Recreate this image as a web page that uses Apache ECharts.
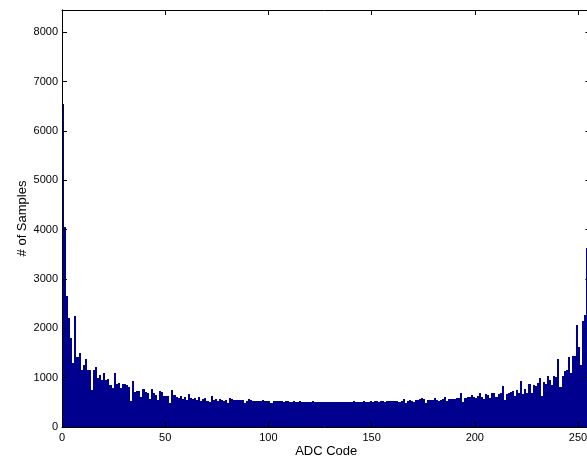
<!DOCTYPE html>
<html><head><meta charset="utf-8">
<script src="https://cdn.jsdelivr.net/npm/echarts@6/dist/echarts.min.js"></script>
<style>html,body{margin:0;padding:0;background:#fff}#c{width:587px;height:462px}</style>
</head><body><div id="c"></div>
<script>
// ADC code histogram: counts for codes 0..255 (bin i spans [i, i+1])
const counts0to33 = [6550,4050,2650,2200,1800,1290,2250,1420,1500,1150,1250,1380,1150,1150,750,1150,1220,1000,1050,950,1100,950,980,850,800,1100,880,900,800,880,870,850,820,520];
const counts34to61 = [930,700,720,720,610,780,700,680,570,760,680,650,550,720,700,630,630,630,490,750,640,610,590,630,570,600,550,675];
const counts62to83 = [595,570,580,550,615,530,575,580,530,510,635,550,560,530,570,550,530,540,480,595,560,550];
const counts84to160 = [545,540,540,555,490,535,560,540,535,530,535,525,530,540,525,520,535,485,530,525,520,530,525,515,520,525,515,510,520,515,510,520,515,505,510,515,510,520,505,510,515,505,510,515,510,505,515,510,505,510,515,505,510,515,510,505,515,520,510,515,505,515,520,510,515,520,515,520,525,515,520,525,515,530,520,525,530];
const counts161to222 = [520,520,505,535,560,495,535,540,535,505,540,540,560,595,565,480,545,545,545,590,545,535,555,565,600,520,565,565,565,575,595,595,680,505,595,615,615,655,615,590,630,680,615,565,660,650,580,680,695,600,660,680,830,545,675,680,715,735,630,750,690,940];
const counts223to255 = [670,780,695,870,695,850,835,900,990,630,920,870,1030,950,845,1040,1020,1380,815,1040,1140,1150,1420,1100,1445,1445,2065,1625,1260,2150,2270,3620,4000];
const counts = [].concat(counts0to33, counts34to61, counts62to83, counts84to160, counts161to222, counts223to255);
const xTickValues = [0,50,100,150,200,250];
const yTickValues = [0,1000,2000,3000,4000,5000,6000,7000,8000];
const xTitle = 'ADC Code';
const yTitle = '# of Samples';

const data = counts.map((v, i) => [i, v]);
const font = 'Liberation Sans, Arial, Helvetica, sans-serif';
const chart = echarts.init(document.getElementById('c'), null, {renderer: 'canvas'});

const axisCommon = {
  axisLine: {show: true, onZero: false, lineStyle: {color: '#000', width: 1}},
  axisTick: {show: true, inside: true, length: 5, lineStyle: {color: '#000', width: 1}},
  splitLine: {show: false},
  nameMoveOverlap: false,
  z: 5
};
const X_MAX = 256, Y_MAX = 8450;
chart.setOption({
  animation: false,
  backgroundColor: '#fff',
  grid: {left: 62, top: 10, width: 528.4, height: 417, containLabel: false, outerBoundsMode: 'none'},
  xAxis: [
    Object.assign({}, axisCommon, {
      type: 'value', min: 0, max: X_MAX, interval: 50, position: 'bottom',
      axisLabel: {show: true, color: '#000', fontSize: 11, fontFamily: font, margin: 5, showMaxLabel: false,
        formatter: v => xTickValues.includes(v) ? String(v) : ''},
      name: xTitle, nameLocation: 'middle', nameGap: 18,
      nameTextStyle: {color: '#000', fontSize: 13, fontFamily: font}
    }),
    Object.assign({}, axisCommon, {
      type: 'value', min: 0, max: X_MAX, interval: 50, position: 'top',
      axisLabel: {show: false}
    })
  ],
  yAxis: [
    Object.assign({}, axisCommon, {
      type: 'value', min: 0, max: Y_MAX, interval: 1000, position: 'left',
      axisLabel: {show: true, color: '#000', fontSize: 11, fontFamily: font, margin: 4, showMaxLabel: false,
        formatter: v => yTickValues.includes(v) ? String(v) : ''},
      name: yTitle, nameLocation: 'middle', nameGap: 33,
      nameTextStyle: {color: '#000', fontSize: 13, fontFamily: font}
    }),
    Object.assign({}, axisCommon, {
      type: 'value', min: 0, max: Y_MAX, interval: 1000, position: 'right',
      axisLabel: {show: false}
    })
  ],
  series: [{
    type: 'custom',
    xAxisIndex: 0, yAxisIndex: 0,
    clip: false,
    data: data,
    renderItem: function (params, api) {
      const cs = params.coordSys;
      const x = api.value(0), y = api.value(1);
      const p0 = api.coord([x, y]);
      const p1 = api.coord([x + 1, 0]);
      const left = Math.max(Math.round(p0[0]), cs.x);
      const right = Math.min(Math.round(p1[0]), cs.x + cs.width);
      if (right <= left) return null;
      return {
        type: 'rect',
        shape: {x: left, y: Math.round(p0[1]), width: right - left, height: Math.round(p1[1]) - Math.round(p0[1])},
        style: {fill: '#00008F', stroke: null}
      };
    }
  }]
});
</script>
</body></html>
